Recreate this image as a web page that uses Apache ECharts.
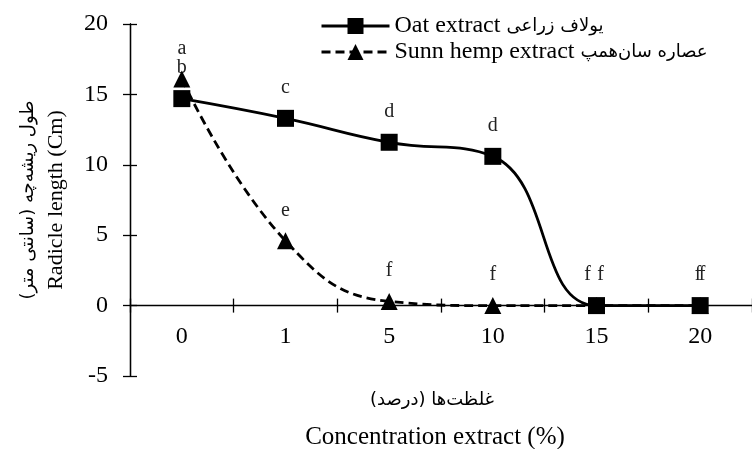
<!DOCTYPE html>
<html><head><meta charset="utf-8">
<script src="https://cdn.jsdelivr.net/npm/echarts@6/dist/echarts.min.js"></script>
<style>html,body{margin:0;padding:0;background:#fff}#c{width:752px;height:449px}</style>
</head><body><div id="c"></div>
<script>
const categories = ['0', '1', '5', '10', '15', '20'];
const oatValues = [14.7, 13.3, 11.6, 10.6, 0, 0];
const sunnValues = [16.1, 4.6, 0.3, 0, 0, 0];
const oatLetters = ['b', 'c', 'd', 'd', 'f', 'f'];
const sunnLetters = ['a', 'e', 'f', 'f', 'f', 'f'];
const yMin = -5, yMax = 20, yInterval = 5;
const oatEn = 'Oat extract', oatFa = 'یولاف زراعی';
const sunnEn = 'Sunn hemp extract', sunnFa = 'عصاره سان‌همپ';
const oatName = oatEn + ' ' + oatFa;
const sunnName = sunnEn + ' ' + sunnFa;
const yNameFa = 'طول ریشه‌چه (سانتی متر)', yNameEn = 'Radicle length (Cm)';
const xNameFa = 'غلظت‌ها (درصد)', xNameEn = 'Concentration extract (%)';

const FONT = '"Liberation Serif", "DejaVu Serif", serif';
const FA_FONT = '"DejaVu Sans", sans-serif';
const chart = echarts.init(document.getElementById('c'));

const shiftsOat = [0, 0, 0, 0, -9, -2];
const shiftsSunn = [0, 0, 0, 0, 4, 2];
function letterData(values, letters, shifts) {
  return values.map((v, i) => ({
    value: v,
    label: { formatter: letters[i], offset: [shifts[i], 0] }
  }));
}

const tickStyle = { color: '#000', width: 1.3 };
const yBase = { type: 'value', min: yMin, max: yMax, interval: yInterval, splitLine: { show: false },
  axisLine: { show: true, lineStyle: { color: '#000', width: 1.3 } } };
// x axis line drawn at the value-0 level of the y axis (grid height 352 over a range of 25)
const zeroOffset = -352 * (0 - yMin) / (yMax - yMin);

chart.setOption({
  animation: false,
  backgroundColor: '#fff',
  textStyle: { fontFamily: FONT },
  grid: { left: 130, right: -8, top: 24, bottom: 73 },
  legend: {
    orient: 'vertical', left: 315, top: 9, itemGap: 2, itemWidth: 68, itemHeight: 20,
    lineStyle: { width: 3 },
    textStyle: { fontFamily: FONT, fontSize: 24, fontWeight: 400, color: '#000',
      rich: { en: { fontFamily: FONT, fontSize: 24, fontWeight: 400, color: '#000' },
              fa: { fontFamily: FA_FONT, fontSize: 18, fontWeight: 400, color: '#000' } } },
    formatter: function (name) {
      const en = name === oatName ? oatEn : sunnEn;
      const fa = name === oatName ? oatFa : sunnFa;
      return '{en|' + en + '} {fa|' + fa + '}';
    },
    data: [oatName, sunnName]
  },
  xAxis: [
    {
      type: 'category', data: categories, boundaryGap: true, position: 'bottom', offset: zeroOffset,
      axisLine: { show: true, onZero: false, lineStyle: { color: '#000', width: 1.3 } },
      axisTick: { show: true, inside: false, length: 7, lineStyle: tickStyle },
      axisLabel: { color: '#000', fontSize: 24, fontFamily: FONT, margin: 19 }
    },
    {
      type: 'category', data: categories, boundaryGap: true, position: 'bottom', offset: zeroOffset,
      axisLine: { show: false, onZero: false },
      axisTick: { show: true, inside: true, length: 7, lineStyle: tickStyle },
      axisLabel: { show: false }
    }
  ],
  yAxis: [
    Object.assign({}, yBase, {
      axisTick: { show: true, inside: false, length: 7, lineStyle: tickStyle },
      axisLabel: { color: '#000', fontSize: 24, fontFamily: FONT, margin: 22 },
      name: '{fa|' + yNameFa + '}\n{en|' + yNameEn + '}',
      nameLocation: 'middle', nameRotate: 90, nameGap: 60,
      nameTextStyle: { color: '#000', fontSize: 22, fontFamily: FONT, lineHeight: 28,
        rich: { fa: { fontFamily: FA_FONT, fontSize: 18, lineHeight: 28, color: '#000' }, en: { fontFamily: FONT, fontSize: 22, lineHeight: 28, color: '#000' } } }
    }),
    Object.assign({}, yBase, {
      position: 'left',
      axisTick: { show: true, inside: true, length: 7, lineStyle: tickStyle },
      axisLabel: { show: false }
    })
  ],
  graphic: [
    { type: 'text', x: 432, y: 400, style: { text: xNameFa, font: '18px ' + FA_FONT, fill: '#000', align: 'center', verticalAlign: 'middle' } },
    { type: 'text', x: 435, y: 437, style: { text: xNameEn, font: '25px ' + FONT, fill: '#000', align: 'center', verticalAlign: 'middle' } }
  ],
  series: [
    {
      name: oatName, type: 'line', xAxisIndex: 0, yAxisIndex: 0, smooth: 0.45,
      symbol: 'rect', symbolSize: 17,
      itemStyle: { color: '#000' },
      lineStyle: { color: '#000', width: 2.8, type: 'solid' },
      label: { show: true, position: 'top', distance: 12, color: '#222', fontSize: 20, fontFamily: FONT },
      data: letterData(oatValues, oatLetters, shiftsOat),
      z: 3
    },
    {
      name: sunnName, type: 'line', xAxisIndex: 0, yAxisIndex: 0, smooth: 0.45,
      symbol: 'triangle', symbolSize: 17,
      itemStyle: { color: '#000' },
      lineStyle: { color: '#000', width: 2.8, type: [9, 5] },
      label: { show: true, position: 'top', distance: 12, color: '#222', fontSize: 20, fontFamily: FONT },
      data: letterData(sunnValues, sunnLetters, shiftsSunn),
      z: 4
    }
  ]
});
</script></body></html>
